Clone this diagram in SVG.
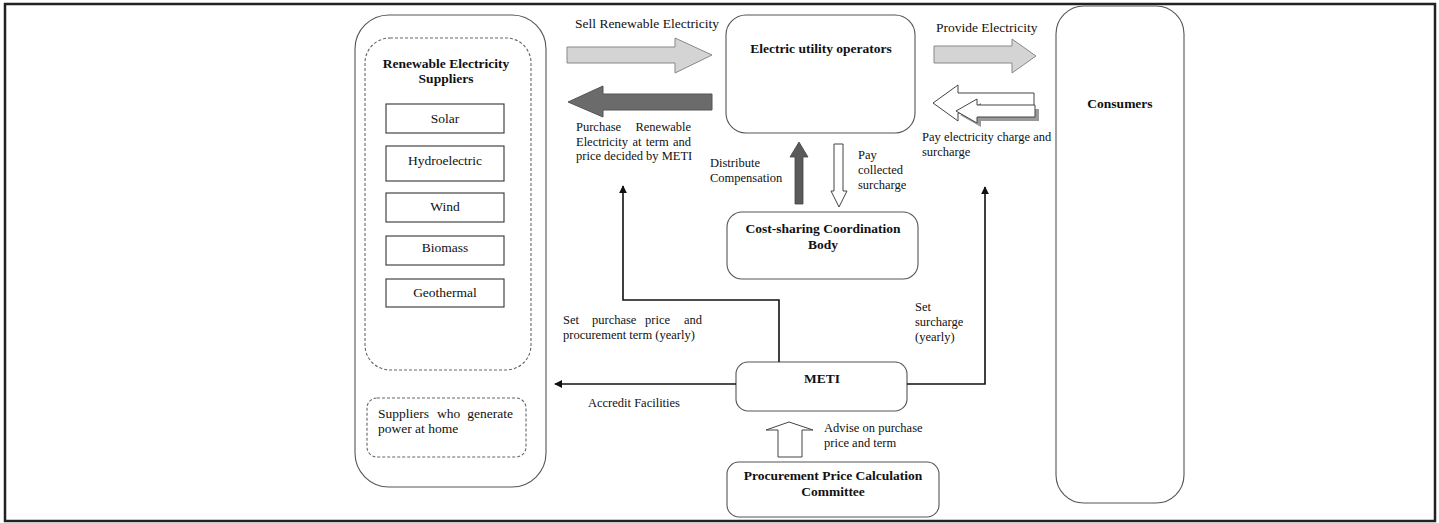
<svg xmlns="http://www.w3.org/2000/svg" width="1439" height="523" viewBox="0 0 1439 523">
<defs>
<style>
text{font-family:"Liberation Serif","Times New Roman",serif;fill:#111}
.t{font-size:13.5px}
.s{font-size:12.5px}
.b{font-size:13.5px;font-weight:bold}
.c{text-anchor:middle}
.e{text-anchor:end}
.node{fill:#fff;stroke:#555;stroke-width:1.1}
.src{fill:#fff;stroke:#333;stroke-width:1.1}
.dash{fill:none;stroke:#666;stroke-width:1.1;stroke-dasharray:3 2}
.conn{fill:none;stroke:#111;stroke-width:1.6}
.light{fill:#d4d4d4;stroke:#888;stroke-width:1}
.dark{fill:#6b6b6b;stroke:#555;stroke-width:1}
.hollow{fill:#fff;stroke:#444;stroke-width:1}
</style>
<marker id="ah" viewBox="0 0 10 10" refX="9" refY="5" markerWidth="8" markerHeight="8" markerUnits="userSpaceOnUse" orient="auto">
<path d="M0,0 L10,5 L0,10 Z" fill="#111"/>
</marker>
</defs>
<rect x="5" y="4" width="1430" height="517" fill="#fff" stroke="#222" stroke-width="2.5"/>

<g id="suppliers-group">
<rect class="node" x="355" y="15" width="191" height="472" rx="34"/>
<rect class="dash" x="365" y="38" width="166" height="332" rx="25"/>
<text class="b c" x="446" y="68">Renewable Electricity</text>
<text class="b c" x="446" y="83">Suppliers</text>
</g>
<g id="solar"><rect class="src" x="386" y="104" width="118" height="29"/><text class="t c" x="445" y="123">Solar</text></g>
<g id="hydro"><rect class="src" x="386" y="146" width="118" height="35"/><text class="t c" x="445" y="165">Hydroelectric</text></g>
<g id="wind"><rect class="src" x="386" y="193" width="118" height="29"/><text class="t c" x="445" y="211">Wind</text></g>
<g id="biomass"><rect class="src" x="386" y="236" width="118" height="29"/><text class="t c" x="445" y="252">Biomass</text></g>
<g id="geothermal"><rect class="src" x="386" y="279" width="118" height="28"/><text class="t c" x="445" y="297">Geothermal</text></g>
<g id="home-suppliers">
<rect class="dash" x="367" y="398" width="159" height="59" rx="10"/>
<text class="t" x="378" y="418">Suppliers</text>
<text class="t" x="437" y="418">who</text>
<text class="t e" x="513" y="418">generate</text>
<text class="t" x="378" y="433">power at home</text>
</g>

<g id="utility">
<rect class="node" x="726" y="15" width="189" height="118" rx="20"/>
<text class="b c" x="821" y="53">Electric utility operators</text>
</g>
<g id="consumers">
<rect class="node" x="1056" y="6" width="128" height="497" rx="28"/>
<text class="b c" x="1120" y="108">Consumers</text>
</g>
<g id="cost-sharing">
<rect class="node" x="727" y="212" width="191" height="67" rx="15"/>
<text class="b c" x="823" y="233">Cost-sharing Coordination</text>
<text class="b c" x="823" y="249">Body</text>
</g>
<g id="meti">
<rect class="node" x="736" y="362" width="171" height="49" rx="12"/>
<text class="b c" x="822" y="383">METI</text>
</g>
<g id="committee">
<rect class="node" x="727" y="462" width="212" height="55" rx="12"/>
<text class="b c" x="833" y="480">Procurement Price Calculation</text>
<text class="b c" x="833" y="496">Committee</text>
</g>

<g id="connectors">
<path class="light" d="M567,47 H675 V38 L712,55 L675,73 V63 H567 Z"/>
<path class="dark" d="M712,94 H603 V86 L568,102 L603,117 V110 H712 Z"/>
<path class="light" d="M934,46 H1012 V39 L1036,56 L1012,73 V63 H934 Z"/>
<path class="hollow" d="M1034,93 H958 V85 L933,103 L958,121 V113 H1034 Z"/>
<path d="M1039,109 H981 V103 L960,115 L981,127 V121 H1039 Z" fill="#999"/>
<path class="hollow" d="M1035,105 H977 V99 L956,111 L977,123 V117 H1035 Z"/>
<path d="M795,204 V157 H790 L799,142 L808,157 H803 V204 Z" fill="#5a5a5a" stroke="#444" stroke-width="0.8"/>
<path class="hollow" d="M834,144 H843 V191 H847 L839,207 L831,191 H834 Z"/>
<path class="hollow" d="M778,457 V430 H766 L789,422 L813,430 H802 V457 Z"/>
<path class="conn" d="M779,362 V300 H623 V186" marker-end="url(#ah)"/>
<path class="conn" d="M907,384 H985 V187" marker-end="url(#ah)"/>
<path class="conn" d="M736,384 H555" marker-end="url(#ah)"/>

<text class="t" x="575" y="28">Sell Renewable Electricity</text>
<text class="s" x="576" y="131">Purchase</text>
<text class="s e" x="691" y="131">Renewable</text>
<text class="s" x="576" y="145.5" word-spacing="1.2">Electricity at term and</text>
<text class="s" x="576" y="160">price decided by METI</text>
<text class="t" x="936" y="32">Provide Electricity</text>
<text class="s" x="922" y="141">Pay electricity charge and</text>
<text class="s" x="922" y="156">surcharge</text>
<text class="s" x="710" y="167">Distribute</text>
<text class="s" x="710" y="182">Compensation</text>
<text class="s" x="858" y="159">Pay</text>
<text class="s" x="858" y="174">collected</text>
<text class="s" x="858" y="189">surcharge</text>
<text class="s" x="563" y="324">Set</text>
<text class="s" x="592" y="324">purchase</text>
<text class="s" x="645" y="324">price</text>
<text class="s e" x="702" y="324">and</text>
<text class="s" x="563" y="339">procurement term (yearly)</text>
<text class="s" x="915" y="311">Set</text>
<text class="s" x="915" y="326">surcharge</text>
<text class="s" x="915" y="341">(yearly)</text>
<text class="s" x="588" y="407">Accredit Facilities</text>
<text class="s" x="824" y="432">Advise on purchase</text>
<text class="s" x="824" y="447">price and term</text>
</g>
</svg>
